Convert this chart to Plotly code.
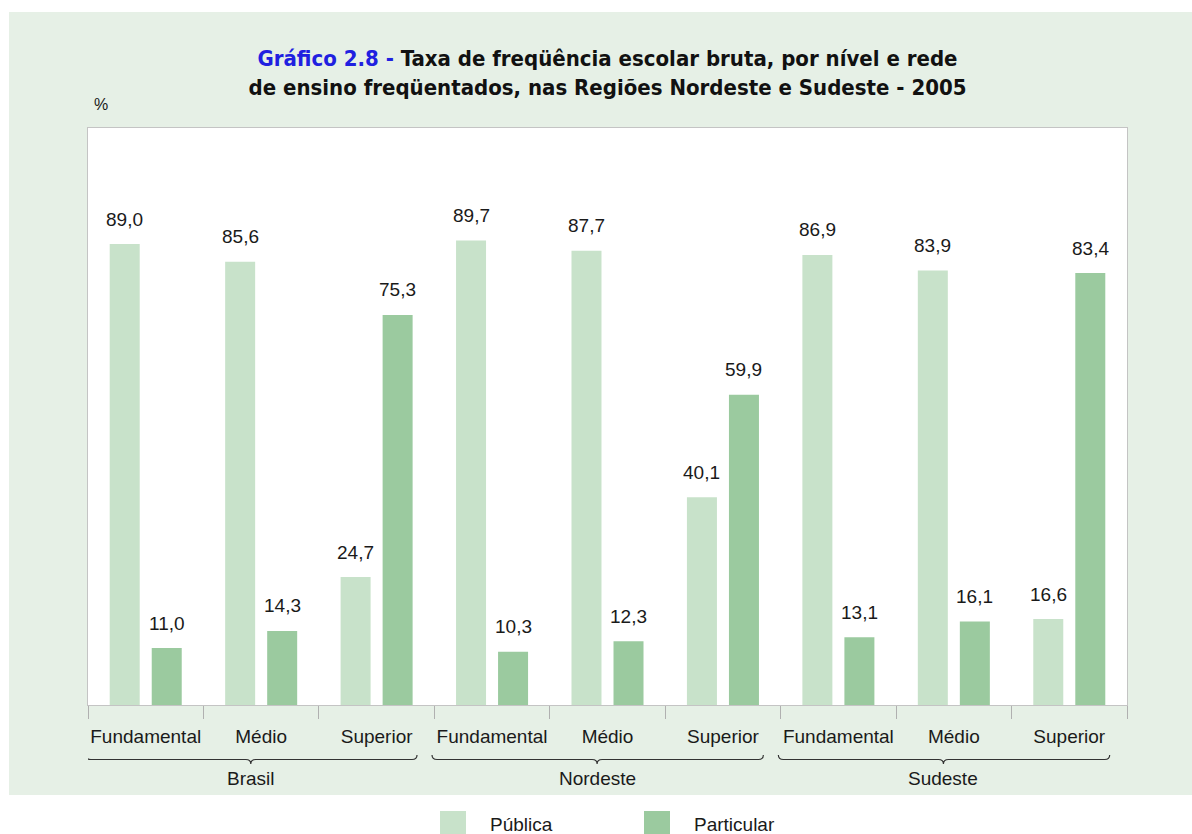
import plotly.graph_objects as go

# ---------------- data ----------------
categories = ["Fundamental", "Médio", "Superior",
              "Fundamental", "Médio", "Superior",
              "Fundamental", "Médio", "Superior"]
regions = ["Brasil", "Nordeste", "Sudeste"]
publica = [89.0, 85.6, 24.7, 89.7, 87.7, 40.1, 86.9, 83.9, 16.6]
particular = [11.0, 14.3, 75.3, 10.3, 12.3, 59.9, 13.1, 16.1, 83.4]
series_names = ["Pública", "Particular"]

# ---------------- style ----------------
W, H = 1192, 834
L, R, T, B = 88, 1127, 128, 705          # plot area in pixels
PW, PH = R - L, B - T
C_PUB = "#c8e2ca"
C_PAR = "#9bca9f"
PANEL = "#e6f0e6"
TXT = "#1a1a1a"
FONT = "Liberation Sans, Arial, sans-serif"
TFONT = "Liberation Sans Narrow, Arial Narrow, DejaVu Sans Condensed, sans-serif"
YMAX = 111.4
n = len(categories)
UNIT = PW / n                             # pixels per category
BAR_OFF = 21 / UNIT                       # centre offset of each bar in a group


def pxx(px):   # page x pixel -> paper x
    return (px - L) / PW


def pxy(py):   # page y pixel -> paper y
    return (B - py) / PH


fig = go.Figure()
x = list(range(n))
fig.add_trace(go.Bar(x=x, y=publica, name=series_names[0], marker_color=C_PUB,
                     marker_line_width=0))
fig.add_trace(go.Bar(x=x, y=particular, name=series_names[1], marker_color=C_PAR,
                     marker_line_width=0))


def fmt(v):
    return f"{v:.1f}".replace(".", ",")


annotations = []
for i in range(n):
    for vals, off in ((publica, -BAR_OFF), (particular, BAR_OFF)):
        annotations.append(dict(x=i + off, y=vals[i], xref="x", yref="y",
                                text=fmt(vals[i]), showarrow=False,
                                xanchor="center", yanchor="middle", yshift=25,
                                font=dict(family=FONT, size=19, color=TXT)))

shapes = []
# background panel and white plot area
shapes.append(dict(type="rect", xref="paper", yref="paper", layer="below",
                   x0=pxx(9), x1=pxx(W + 5), y0=pxy(795), y1=pxy(12),
                   fillcolor=PANEL, line_width=0))
shapes.append(dict(type="rect", xref="paper", yref="paper", layer="below",
                   x0=0, x1=1, y0=0, y1=1, fillcolor="white", line_width=0))

# group braces + labels
y_end, y_line, y_tip = pxy(755), pxy(759.5), pxy(764)
d = 5 / UNIT
for gi, name in enumerate(regions):
    g = gi * 3
    x0, x1, tip = g - 0.52, g + 2.35, g + 0.91
    path = (f"M{x0},{y_end} Q{x0},{y_line} {x0 + d},{y_line} "
            f"L{tip - d},{y_line} Q{tip},{y_line} {tip},{y_tip} "
            f"Q{tip},{y_line} {tip + d},{y_line} "
            f"L{x1 - d},{y_line} Q{x1},{y_line} {x1},{y_end}")
    shapes.append(dict(type="path", xref="x", yref="paper", path=path,
                       line=dict(color="#333333", width=1.2)))
    annotations.append(dict(x=tip, y=pxy(778), xref="x", yref="paper",
                            text=name, showarrow=False, xanchor="center",
                            yanchor="middle",
                            font=dict(family=FONT, size=19, color=TXT)))

# legend (manual, large swatches)
for (sx, tx), name, col in zip(((440, 488), (644, 692)), series_names, (C_PUB, C_PAR)):
    shapes.append(dict(type="rect", xref="paper", yref="paper",
                       x0=pxx(sx), x1=pxx(sx + 26), y0=pxy(838), y1=pxy(811),
                       fillcolor=col, line_width=0))
    annotations.append(dict(x=pxx(tx), y=pxy(824), xref="paper", yref="paper",
                            text=name, showarrow=False, xanchor="left",
                            yanchor="middle",
                            font=dict(family=FONT, size=19, color=TXT)))

# "%" unit label
annotations.append(dict(x=pxx(101), y=pxy(105), xref="paper", yref="paper",
                        text="%", showarrow=False, xanchor="center",
                        yanchor="middle",
                        font=dict(family=FONT, size=16, color=TXT)))

boundaries = [i - 0.5 for i in range(n + 1)]

fig.update_layout(
    width=W, height=H,
    margin=dict(l=L, r=W - R, t=T, b=H - B, pad=0),
    paper_bgcolor="white", plot_bgcolor="white",
    barmode="group", bargap=0.272, bargroupgap=0.286,
    showlegend=False,
    title=dict(
        text=("<b><span style='color:#2020e0'>Gráfico 2.8 - </span>"
              "Taxa de freqüência escolar bruta, por nível e rede<br>"
              "de ensino freqüentados, nas Regiões Nordeste e Sudeste - 2005</b>"),
        x=0.5, xref="paper", xanchor="center",
        y=1 - 66 / H, yref="container", yanchor="top",
        font=dict(family=TFONT, size=22, color="#111111")),
    xaxis=dict(range=[-0.5, n - 0.5], tickmode="array", tickvals=x,
               ticktext=categories, ticks="outside", ticklen=14,
               tickcolor="rgba(0,0,0,0)", showgrid=False, zeroline=False,
               showline=True, linecolor="#c4c4c4", linewidth=1, mirror=True,
               tickfont=dict(family=FONT, size=19, color=TXT),
               minor=dict(tickmode="array", tickvals=boundaries, ticks="outside",
                          ticklen=13, tickcolor="#b0b0b0", tickwidth=1,
                          showgrid=False),
               fixedrange=True),
    yaxis=dict(range=[0, YMAX], showticklabels=False, ticks="", showgrid=False,
               zeroline=False, showline=True, linecolor="#c4c4c4", linewidth=1,
               mirror=True, fixedrange=True),
    shapes=shapes,
    annotations=annotations,
)

fig.write_html("out.html", config={"displayModeBar": False},
               post_script="document.body.style.margin='0';document.body.style.overflow='hidden';")
